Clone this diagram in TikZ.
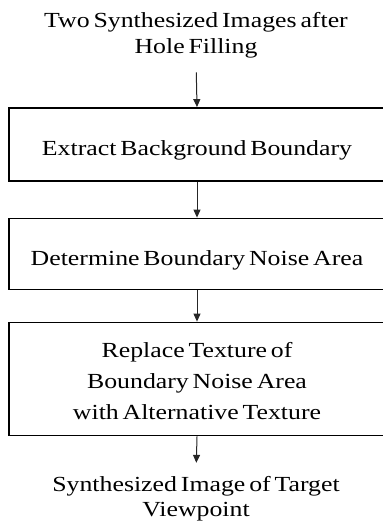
\documentclass[tikz,border=0pt]{standalone}
\usepackage{fontspec}
\setmainfont{Liberation Serif}[FakeStretch=1.2, WordSpace=0.6]
\usetikzlibrary{arrows.meta}
\begin{document}
\begin{tikzpicture}[x=1pt,y=-1pt,
  stepbox/.style={draw, line width=1.8pt, minimum width=376pt, inner sep=0pt, align=center},
  flow/.style={draw=black!85, line width=1pt, -{Triangle[length=8pt,width=7pt]}},
  txt/.style={align=center, inner sep=0pt},
  f1/.style={font=\fontsize{21.5}{25.5}\selectfont},
  f2/.style={font=\fontsize{21.5}{30.8}\selectfont}]
\useasboundingbox (0,0) rectangle (382,526);
\node[txt, f1, anchor=base] (src) at (196,53.5) {Two Synthesized Images after\\Hole Filling};
\node[stepbox, f1, minimum height=73pt, text height=23pt, text depth=0pt] (b1) at (197,144.5) {Extract Background Boundary};
\node[stepbox, f1, minimum height=71pt, text height=22pt, text depth=0pt] (b2) at (197,254) {Determine Boundary Noise Area};
\node[stepbox, f2, minimum height=113pt, text height=80.6pt, text depth=0pt] (b3) at (197,379) {Replace Texture of\\Boundary Noise Area\\with Alternative Texture};
\node[txt, f1, anchor=base] (dst) at (196,516.7) {Synthesized Image of Target\\Viewpoint};
\draw[flow, shorten <=14pt] (src.south) -- (b1.north);
\draw[flow] (b1.south) -- (b2.north);
\draw[flow] (b2.south) -- (b3.north);
\draw[flow, shorten >=13pt] (b3.south) -- (dst.north);
\end{tikzpicture}
\end{document}
